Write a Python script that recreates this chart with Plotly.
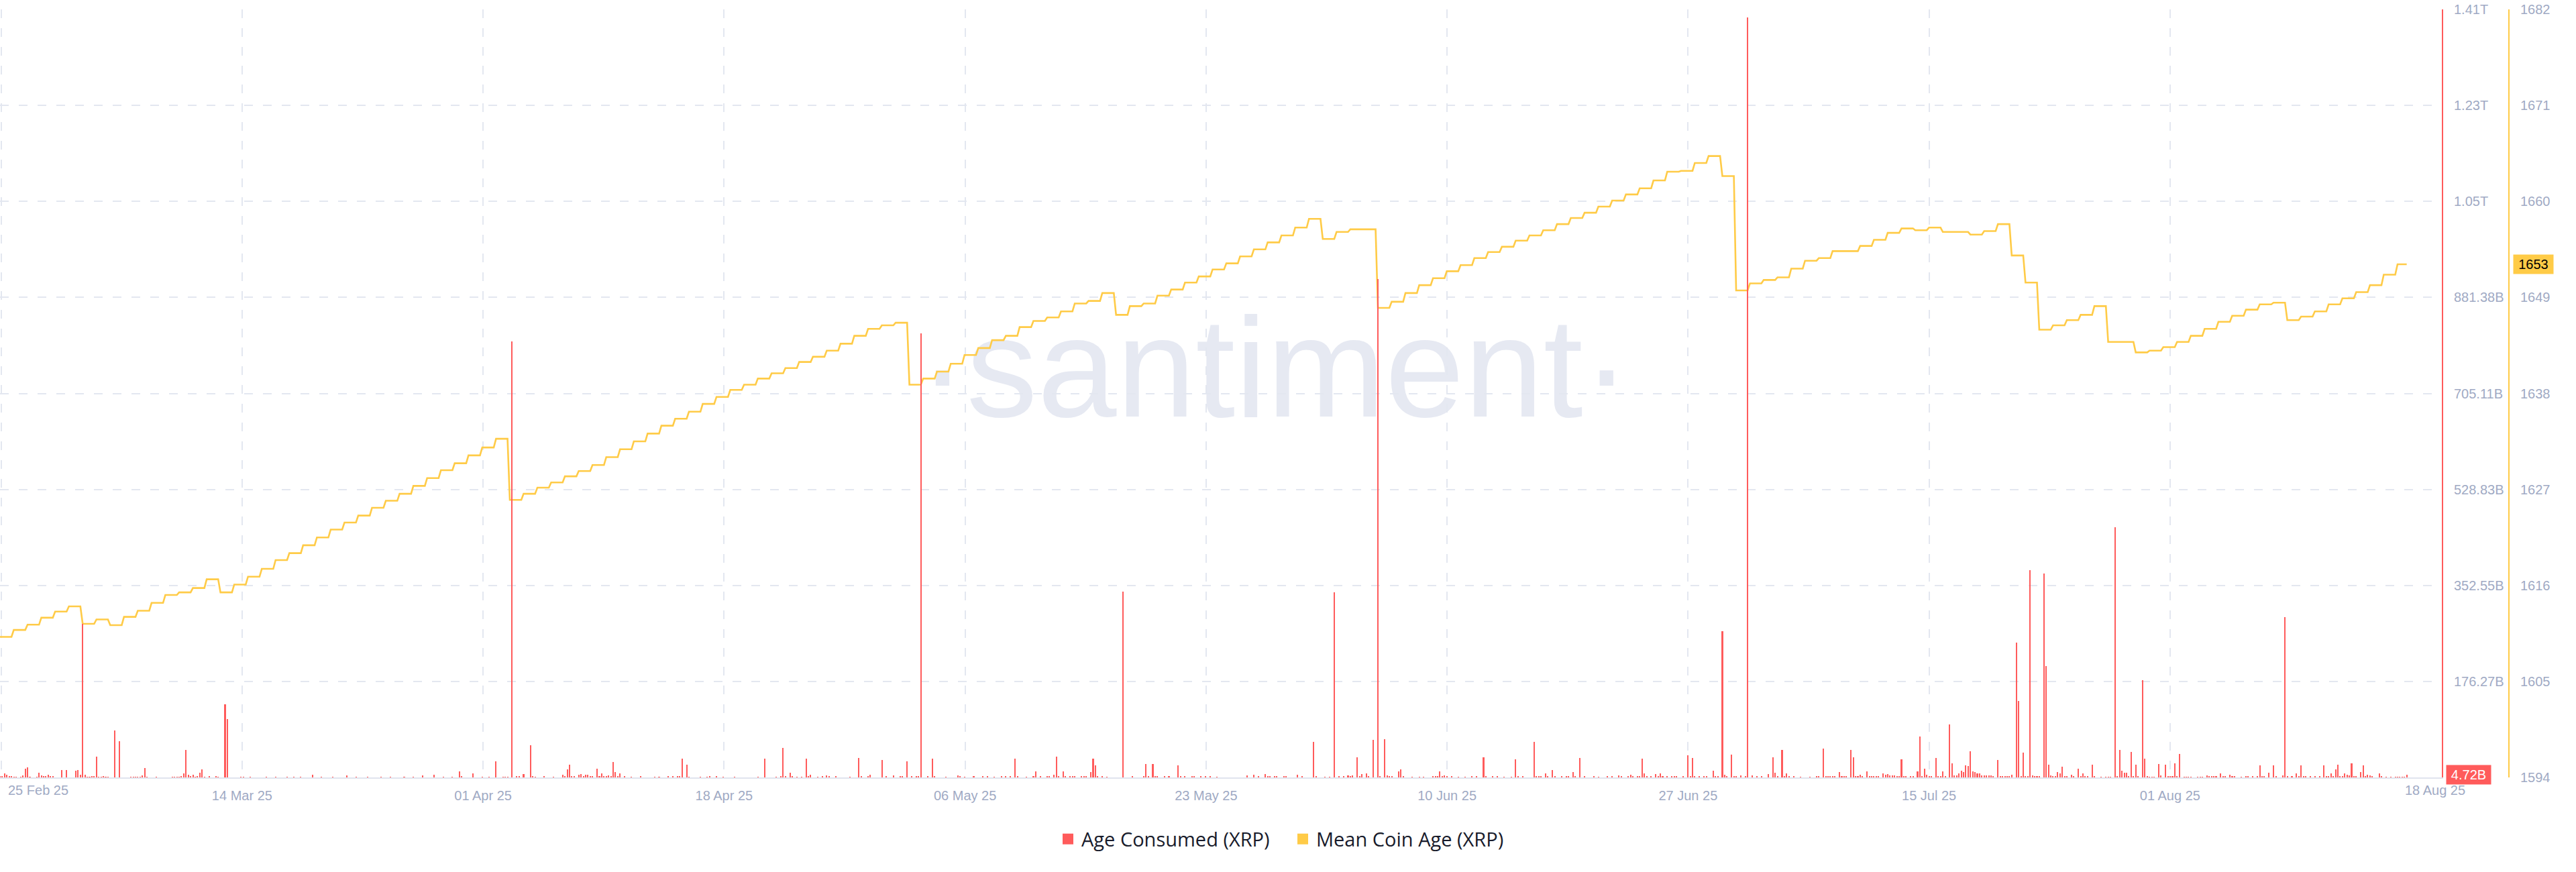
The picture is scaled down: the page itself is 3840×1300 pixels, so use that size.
import numpy as np
import pandas as pd
import plotly.graph_objects as go

# ---------------- data ----------------
START = pd.Timestamp("2025-02-25 00:00")
SLOT_HOURS = 4          # one bar / line sample every 4 hours
N_SLOTS = 1049

# Mean Coin Age (XRP), one value per day (repeated for each 4h sample of that day)
mean_coin_age_daily = [
    1610.1, 1610.9, 1611.5, 1612.3, 1613.0, 1613.6, 1611.6, 1612.1, 1611.45, 1612.4,
    1613.1, 1614.0, 1614.9, 1615.2, 1615.7, 1616.7, 1615.2, 1616.1, 1617.0, 1617.9,
    1618.9, 1619.7, 1620.6, 1621.5, 1622.4, 1623.2, 1624.0, 1624.9, 1625.7, 1626.5,
    1627.4, 1628.3, 1629.2, 1630.0, 1630.9, 1631.8, 1632.8, 1625.8, 1626.5, 1627.2,
    1627.8, 1628.5, 1629.1, 1629.8, 1630.7, 1631.6, 1632.5, 1633.4, 1634.3, 1635.1,
    1635.9, 1636.8, 1637.6, 1638.4, 1639.0, 1639.7, 1640.3, 1640.9, 1641.6, 1642.2,
    1642.9, 1643.7, 1644.6, 1645.4, 1645.8, 1646.1, 1639.0, 1639.7, 1640.5, 1641.4,
    1642.4, 1643.2, 1644.1, 1644.6, 1645.6, 1646.3, 1646.7, 1647.4, 1648.3, 1648.6,
    1649.5, 1647.0, 1648.0, 1648.3, 1649.2, 1649.9, 1650.7, 1651.4, 1652.2, 1652.9,
    1653.7, 1654.5, 1655.3, 1656.1, 1657.0, 1658.0, 1655.7, 1656.5, 1656.8, 1656.8,
    1647.8, 1648.5, 1649.5, 1650.4, 1651.2, 1652.0, 1652.7, 1653.5, 1654.2, 1654.8,
    1655.5, 1656.1, 1656.7, 1657.4, 1658.1, 1658.7, 1659.4, 1660.1, 1660.8, 1661.5,
    1662.4, 1663.4, 1663.5, 1664.4, 1665.2, 1662.9, 1649.8, 1650.6, 1651.0, 1651.3,
    1652.3, 1653.2, 1653.5, 1654.3, 1654.3, 1654.9, 1655.6, 1656.4, 1656.9, 1656.7,
    1657.0, 1656.5, 1656.5, 1656.2, 1656.6, 1657.4, 1653.8, 1650.7, 1645.3, 1645.8,
    1646.4, 1647.0, 1648.0, 1643.9, 1643.9, 1642.7, 1642.9, 1643.3, 1643.9, 1644.6,
    1645.4, 1646.2, 1646.9, 1647.6, 1648.2, 1648.4, 1646.4, 1646.8, 1647.4, 1648.2,
    1648.9, 1649.6, 1650.4, 1651.6, 1652.8,
]

# Age Consumed (XRP): 4h slot index since START, and value in billions
age_slots = [
    0, 1, 2, 3, 4, 5, 6, 7, 9, 10,
    11, 12, 13, 16, 17, 18, 19, 20, 21, 22,
    23, 27, 29, 33, 34, 35, 36, 37, 38, 39,
    40, 41, 42, 43, 44, 45, 46, 47, 50, 52,
    57, 58, 59, 60, 61, 62, 63, 64, 68, 75,
    76, 77, 78, 79, 80, 81, 82, 83, 84, 85,
    86, 87, 88, 89, 91, 94, 95, 98, 99, 105,
    106, 109, 116, 120, 125, 128, 131, 136, 140, 145,
    151, 155, 160, 166, 170, 176, 180, 184, 189, 193,
    197, 200, 201, 206, 210, 213, 216, 219, 220, 221,
    223, 225, 226, 228, 231, 232, 233, 237, 241, 245,
    246, 247, 248, 249, 250, 252, 253, 254, 255, 256,
    257, 258, 260, 261, 262, 263, 264, 265, 266, 267,
    268, 269, 270, 272, 275, 279, 285, 287, 291, 293,
    295, 296, 297, 299, 300, 305, 308, 309, 312, 315,
    320, 330, 333, 338, 340, 341, 342, 344, 345, 347,
    349, 351, 352, 353, 356, 358, 360, 361, 364, 370,
    374, 375, 378, 379,
    384, 386, 389, 392, 393, 395, 397, 399, 400, 401,
    404, 406, 407, 412, 417, 418, 420, 424, 428, 430,
    433, 436, 438, 440, 442, 443, 447, 450, 451, 453,
    456, 457, 459, 460, 461, 463, 464, 466, 467, 468,
    471, 472, 473, 475, 476, 477, 478, 480, 482, 489,
    493, 498, 499, 500, 502, 503, 504, 507, 509, 513,
    514, 516, 519, 520, 523, 525, 527, 530, 543, 546,
    548, 551, 552, 553, 555, 556, 559, 560, 565, 567,
    572, 573, 577, 579, 581, 583, 585, 587, 588, 589,
    591, 592, 593, 595, 596, 598, 600, 601, 603, 604,
    605, 606, 609, 610, 611, 615, 618, 620, 624, 625,
    626, 627, 628, 629, 630, 632, 635, 638, 641, 643,
    646, 647, 650, 652, 655, 658, 660, 661, 663, 668,
    669, 670, 671, 673, 674, 676, 677, 680, 682, 683,
    685, 686, 688, 690, 694, 696, 700, 702, 705, 706,
    709, 710, 711, 713, 714, 715, 716, 717, 719, 721,
    722, 723, 724, 726, 728, 729, 730, 733, 735, 736,
    737, 738, 740, 742, 743, 746, 747, 748, 750, 751,
    752, 754, 755, 756,
    758, 760, 761, 763, 765, 767, 770, 772, 773, 774,
    776, 777, 778, 779, 781, 784, 788, 791, 792, 794,
    795, 796, 797, 798, 799, 801, 802, 803, 804, 806,
    807, 808, 809, 810, 811, 813, 814, 815, 816, 817,
    818, 820, 821, 822, 823, 824, 825, 826, 827, 828,
    829, 830, 832, 833, 835, 836, 837, 838, 839, 840,
    841, 843, 844, 845, 846, 847, 849,
    850, 851, 852, 853, 854, 855, 856, 857, 858, 859,
    860, 861, 862, 863, 864, 865, 866, 867, 868, 870,
    871, 872, 873, 874, 875, 876, 878, 879, 880, 881,
    882, 883, 884, 885, 886, 887, 888, 890, 891, 892,
    893, 894, 895, 896, 897, 898, 899, 900, 902, 903,
    905, 906, 907, 908, 909, 911, 912, 915, 917, 918,
    919, 921, 922, 923, 924, 925, 926, 927, 928, 929,
    930, 931, 933, 934, 935, 936, 937, 938, 940, 941,
    943, 944, 945, 946, 947, 948, 949, 951, 952, 953,
    954, 957, 958, 959, 961, 962, 963, 964, 965, 967,
    968, 969, 971, 972, 973, 976, 978, 979, 981, 983,
    984, 985, 986, 988, 990, 991, 994, 995, 996, 998,
    1000, 1001, 1002, 1003, 1004, 1006, 1008, 1010, 1012, 1013,
    1014, 1015, 1016, 1017, 1018, 1019, 1020, 1021, 1022, 1023,
    1024, 1025, 1026, 1028, 1029, 1030, 1031, 1032, 1033, 1036,
    1037, 1039, 1041, 1043, 1044, 1045, 1046, 1047, 1048,
]
age_values_b = [
    2, 3, 7, 4.5, 3, 2, 1, 1, 0.7, 3.7,
    16, 18.5, 1.2, 1, 9, 3.7, 2, 2, 5, 1.6,
    1.6, 13.5, 13.5, 12, 13, 5, 281.8, 4.5, 1.2, 1.2,
    1.5, 3, 37.8, 1.2, 1.2, 1.5, 1.2, 1.2, 86, 66.5,
    1, 1, 1, 1, 1, 3.7, 17, 1.2, 0.7, 0.7,
    0.7, 1.2, 1.2, 2, 7.4, 50, 4.5, 3, 5, 1.2,
    2, 8.6, 14.4, 1.2, 2, 2, 1.2, 134, 107, 1.2,
    1.2, 1.2, 1.2, 0.8, 0.8, 0.8, 0.8, 5, 0.8, 0.8,
    3.7, 0.8, 0.8, 0.8, 0.8, 0.8, 0.8, 4, 5, 0.8,
    0.8, 11, 2, 7, 0.8, 0.8, 30, 0.8, 0.8, 1.2,
    800, 3, 1.5, 6, 59, 2.5, 1.2, 2, 0.8, 5,
    2, 14.8, 24, 2.5, 2, 5, 6, 2, 5, 4.5,
    2, 1.5, 16, 2, 7.8, 2, 2, 4, 1.5, 28,
    10, 2, 7.8, 2, 0.8, 2.5, 1.2, 0.8, 3, 2,
    3, 3, 35, 23, 1, 1, 1, 2, 2.5, 0.8,
    0.8, 1, 34.5, 1, 3, 54, 2, 9, 3, 1,
    1, 34.5, 2, 5, 1, 2, 4, 1.5, 1.5, 1,
    35.7, 1.5, 2, 5,
    31.6, 2, 3.7, 1.5, 1.5, 29.5, 1.5, 2.5, 2.5, 815,
    1.5, 34.5, 2, 1, 3.7, 1.5, 1, 1.5, 3, 1.5,
    1, 1.5, 1.5, 1.5, 35, 1.5, 1, 1.5, 11, 2,
    1.5, 2, 5, 37.8, 2, 11, 2, 1.5, 2, 2,
    2, 1.5, 1.5, 10, 34.5, 22, 2, 1.5, 1, 341,
    3, 1.5, 25, 2, 24.6, 2, 1.5, 1.5, 1.5, 22,
    1.5, 2, 1.5, 1.5, 2, 1.5, 1.5, 1, 4, 4.5,
    2, 6, 2, 2.5, 2, 1.5, 2, 1.5, 5, 1.5,
    65, 1.5, 1, 1, 340, 1.5, 2, 4, 2, 4,
    37, 2, 5.7, 8, 2, 68.5, 915, 2, 70, 4,
    2, 1.5, 11, 15, 1.5, 1, 1, 1, 1.5, 2,
    1.5, 11, 2, 4, 1.5, 1.5, 1, 1, 1.5, 1.5,
    37, 1.5, 1.5, 1.5, 1, 1, 33.6, 1.5, 1.5, 65.6,
    2, 2, 1.5, 7, 2, 14, 1.5, 1.5, 1.5, 1.5,
    10, 2, 35.7, 1.5, 1.5, 1, 1.5, 1.5, 4, 2,
    2, 5, 2, 2, 2, 34.5, 7, 2, 2, 6,
    2.5, 7, 2, 3, 3, 2, 3, 2, 40.6, 2,
    35.7, 2, 2, 2, 1.5, 12.3, 3, 2, 268, 5,
    2, 42, 2, 3,
    3.7, 2, 1395, 3.7, 2, 2, 6, 36.5, 9, 2,
    51, 2, 7, 2, 1.5, 1, 1, 2, 1.5, 53,
    2, 2, 2, 2, 1.5, 10, 2, 2, 2, 51,
    37, 3, 2, 5, 2, 11, 2, 3, 2, 2,
    2, 7, 5, 6, 3.7, 3.7, 3.7, 2, 2, 33.6,
    2, 2, 2, 2, 11, 75, 2, 16, 5, 2,
    2, 35.7, 2, 2, 11, 2, 97,
    25.4, 4, 3.7, 8, 12.3, 10, 22, 21, 48, 11,
    10, 7, 7, 4, 3.7, 4, 4, 4, 1.5, 31.6,
    1.5, 1.5, 1.5, 1.5, 2.5, 4.5, 248, 140, 2, 45.5,
    3, 2, 380, 4, 2, 2.5, 2, 374, 204, 24,
    4, 2, 2.5, 10, 8, 20, 3, 2, 5, 2,
    16, 3, 7, 2, 1.5, 23.4, 1.5, 1, 1, 1,
    1, 460, 3, 51, 12, 9, 9, 2, 47, 2,
    24, 2, 179, 34.5, 2, 1, 1, 1, 24.6, 3.7,
    24, 1.5, 2.5, 2, 26, 2, 43, 1, 1, 1,
    1, 1, 1, 1, 3.7, 1.5, 2, 1.5, 2, 8,
    2.5, 2, 4.5, 2, 1.5, 1.2, 2, 1.5, 1.5, 2.5,
    22.6, 1.5, 1.5, 9, 22.6, 2, 4, 294, 2, 1.5,
    7.8, 1.5, 22.6, 2, 1.5, 1.5, 1.5, 1.5, 22.6, 1.5,
    2, 7, 2, 14.4, 23.4, 2, 2, 7, 5, 3.7,
    25.4, 2, 2, 10, 22, 2, 5, 3.7, 1.5, 8,
    1.5, 1, 1, 1, 1, 1, 1, 1, 4.72,
]
assert len(age_slots) == len(age_values_b), (len(age_slots), len(age_values_b))

x_tick_labels = ["25 Feb 25", "14 Mar 25", "01 Apr 25", "18 Apr 25", "06 May 25", "23 May 25",
                 "10 Jun 25", "27 Jun 25", "15 Jul 25", "01 Aug 25", "18 Aug 25"]
X_TICK_STEP_DAYS = 17.49
X_TICK_OFFSET_DAYS = 0.08

red_tick_step_b = 176.275
red_tick_labels = ["176.27B", "352.55B", "528.83B", "705.11B", "881.38B", "1.05T", "1.23T", "1.41T"]
yellow_ticks = [1594, 1605, 1616, 1627, 1638, 1649, 1660, 1671, 1682]

last_age_label = "4.72B"
last_mca_label = "1653"

# ---------------- styling ----------------
RED = "#ff5b5b"
YELLOW = "#ffcb47"
GRID = "#e3e7f0"
TICK_COL = "#9faac4"
TICK_FONT = dict(family="Liberation Sans, Arial, sans-serif", size=20, color=TICK_COL)
PX_PER_DAY = 20.54
PLOT_W = 3640
PAPER_W = 3740
PLOT_TOP, PLOT_BOT = 14, 1159
PLOT_H = PLOT_BOT - PLOT_TOP

slot = pd.Timedelta(hours=SLOT_HOURS)
line_x = START + slot * np.arange(N_SLOTS)
line_y = np.repeat(np.array(mean_coin_age_daily), 24 // SLOT_HOURS)[:N_SLOTS]
bar_x = START + slot * np.array(age_slots)
bar_y = np.array(age_values_b) * 1e9

x_end = START + pd.Timedelta(days=PLOT_W / PX_PER_DAY)
tick_pos = [START + pd.Timedelta(days=X_TICK_OFFSET_DAYS + k * X_TICK_STEP_DAYS) for k in range(10)]
tick_txt = [""] + x_tick_labels[1:10]

red_max = red_tick_step_b * len(red_tick_labels) * 1e9
red_vals = [red_tick_step_b * (k + 1) * 1e9 for k in range(len(red_tick_labels))]

fig = go.Figure()
fig.add_trace(go.Scatter(x=line_x, y=line_y, mode="lines", yaxis="y",
                         line=dict(color=YELLOW, width=2.6), showlegend=False, hoverinfo="skip"))
fig.add_trace(go.Bar(x=bar_x, y=bar_y, yaxis="y2", marker=dict(color=RED, line=dict(width=0)),
                     width=0.6 * SLOT_HOURS * 3600 * 1000, showlegend=False, hoverinfo="skip"))
# legend entries (square swatches)
fig.add_trace(go.Scatter(x=[None], y=[None], mode="markers", name="Age Consumed (XRP)",
                         marker=dict(symbol="square", size=16, color=RED)))
fig.add_trace(go.Scatter(x=[None], y=[None], mode="markers", name="Mean Coin Age (XRP)",
                         marker=dict(symbol="square", size=16, color=YELLOW)))

def py(px):
    return (PLOT_BOT - px) / PLOT_H

WM_SIZE = 212
WM_CENTER_Y = 527
WM_CENTER_X = 1900

fig.update_layout(
    width=3840, height=1300,
    margin=dict(l=0, r=3840 - PAPER_W, t=PLOT_TOP, b=1300 - PLOT_BOT),
    paper_bgcolor="white", plot_bgcolor="rgba(0,0,0,0)",
    hovermode=False, bargap=0,
    xaxis=dict(type="date", domain=[0, PLOT_W / PAPER_W], range=[START, x_end],
               tickvals=tick_pos, ticktext=tick_txt, tickfont=TICK_FONT,
               showgrid=True, gridcolor=GRID, gridwidth=1.5, griddash="13px,15px",
               showline=True, linecolor="#e0e4ee", linewidth=2, zeroline=False,
               ticks="", ticklabelstandoff=8),
    yaxis=dict(range=[yellow_ticks[0], yellow_ticks[-1]], side="right", anchor="free", position=1.0,
               tickvals=yellow_ticks, ticktext=[str(v) for v in yellow_ticks], tickfont=TICK_FONT,
               showgrid=True, gridcolor=GRID, gridwidth=1.5, griddash="13px,15px",
               showline=True, linecolor=YELLOW, linewidth=2, zeroline=False,
               ticks="", ticklabelstandoff=12),
    yaxis2=dict(range=[0, red_max], overlaying="y", side="right", anchor="x",
                tickvals=red_vals, ticktext=red_tick_labels, tickfont=TICK_FONT,
                showgrid=False, showline=True, linecolor=RED, linewidth=2, zeroline=False,
                ticks="", ticklabelstandoff=12),
    legend=dict(orientation="h", x=1922 / PAPER_W, xanchor="center", y=py(1251), yanchor="middle",
                font=dict(family="Open Sans, sans-serif", size=29, color="#181b2b"),
                entrywidth=305, entrywidthmode="pixels",
                bgcolor="rgba(0,0,0,0)", itemclick=False),
    shapes=[dict(type="rect", xref="paper", yref="paper",
                 x0=(WM_CENTER_X - 500) / PAPER_W, x1=(WM_CENTER_X + 500) / PAPER_W,
                 y0=py(WM_CENTER_Y + 150), y1=py(WM_CENTER_Y - 150),
                 line=dict(width=0), fillcolor="rgba(0,0,0,0)", layer="below",
                 label=dict(text="·santiment·", textposition="middle center",
                            font=dict(family="Liberation Sans, Arial, sans-serif",
                                      size=WM_SIZE, color="#e6e9f2")))],
    annotations=[
        dict(text=x_tick_labels[0], xref="paper", yref="paper", x=10 / PAPER_W, y=py(1178),
             xanchor="left", yanchor="middle", showarrow=False, font=TICK_FONT),
        dict(text=x_tick_labels[-1], xref="paper", yref="paper", x=3630 / PAPER_W, y=py(1178),
             xanchor="center", yanchor="middle", showarrow=False, font=TICK_FONT),
        dict(text=last_age_label, xref="paper", yref="y2", x=3646 / PAPER_W, y=age_values_b[-1] * 1e9,
             xanchor="left", yanchor="middle", showarrow=False, bgcolor=RED, width=64, height=26,
             font=dict(family="Liberation Sans, Arial, sans-serif", size=20, color="white")),
        dict(text=last_mca_label, xref="paper", yref="y", x=3746 / PAPER_W, y=line_y[-1],
             xanchor="left", yanchor="middle", showarrow=False, bgcolor=YELLOW, width=57, height=26,
             font=dict(family="Liberation Sans, Arial, sans-serif", size=20, color="black")),
    ],
)

fig.write_html("out.html", config={"displayModeBar": False},
               post_script="document.body.style.margin='0px';")
